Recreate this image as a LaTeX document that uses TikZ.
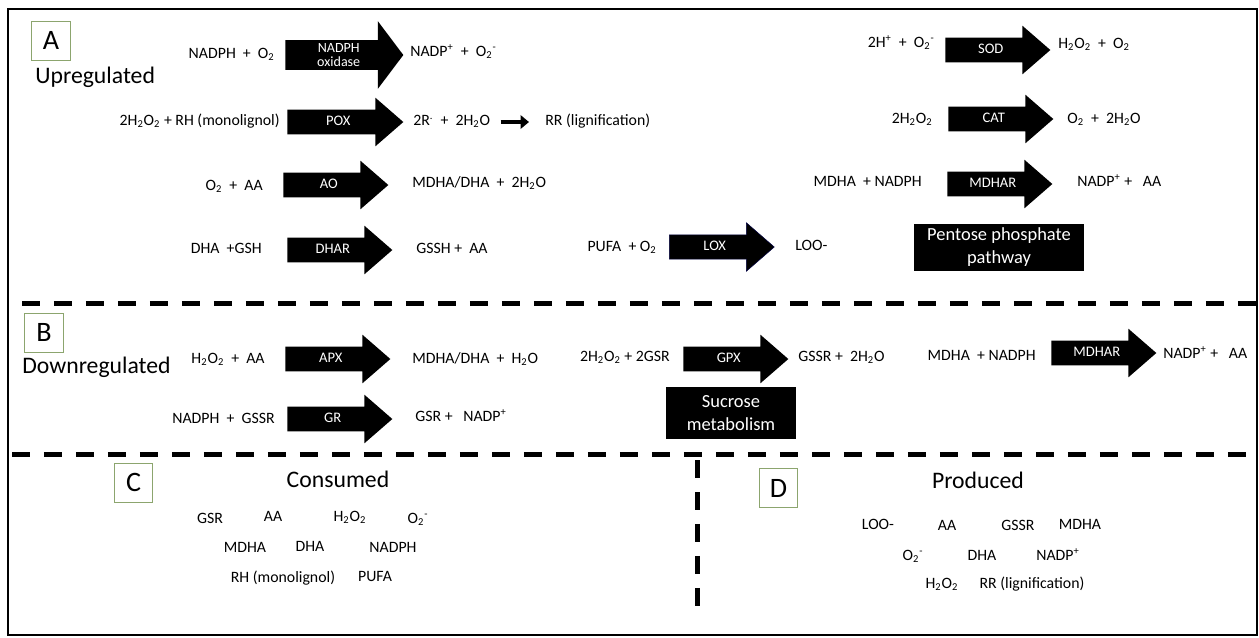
\documentclass[tikz,border=0pt]{standalone}
\usepackage{fontspec}
\setmainfont{Carlito}
\usetikzlibrary{shapes.arrows,arrows.meta,positioning}

\definecolor{panelgreen}{RGB}{140,165,110}
\newcommand{\chsub}[1]{\textsubscript{#1}}
\newcommand{\chsup}[1]{\textsuperscript{#1}}
\newcommand{\pl}{\hspace{0.45em}+\hspace{0.45em}}

\tikzset{
  enzyme/.style={single arrow, fill=black, text=white, font=\fontsize{8.3}{9}\selectfont,
    single arrow head extend=0.24cm, single arrow tip angle=82, inner xsep=2pt, inner ysep=0.1cm,
    text height=5.9pt, text depth=2pt, minimum height=2.1cm},
  oxidase/.style={align=center, text height={}, text depth={}, inner ysep=1.5pt,
    font=\fontsize{8}{8.4}\selectfont,
    single arrow head extend=0.38cm, single arrow tip angle=106, minimum height=2.36cm},
  species/.style={font=\fontsize{9}{11}\selectfont, inner sep=0pt, text height=6.5pt, text depth=2pt},
  heading/.style={font=\fontsize{13.5}{16}\selectfont, inner sep=0pt},
  panel/.style={draw=panelgreen, line width=0.5pt, fill=white, minimum width=0.77cm,
    minimum height=0.78cm, inner sep=0pt, font=\fontsize{16}{18}\selectfont},
  pathway/.style={fill=black, text=white, align=center, inner sep=0pt, font=\fontsize{10.5}{13}\selectfont},
  divider/.style={line width=0.1cm, dash pattern=on 0.36cm off 0.28cm},
  smallarrow/.style={line width=0.09cm, -{Triangle[length=0.17cm,width=0.27cm]},
    shorten <=0.2cm, shorten >=0.32cm}
}

\begin{document}
\begin{tikzpicture}[x=0.02cm,y=-0.02cm]
\useasboundingbox (0,0) rectangle (1259,637);
\draw[line width=0.04cm] (8,9) rectangle (1257,635);

% dividers
\draw[divider] (22,303) -- (1257,303);
\draw[divider] (12,454) -- (1257,454);
\draw[divider] (697,460) -- (697,612);

% A: upregulated
\node[panel] (pa) at (51,40.5) {A};
\node[heading, anchor=base west] (up) at (35,83) {Upregulated};

\node[species, anchor=east] (nadph) at (275,55) {NADPH\pl O\chsub{2}};
\node[enzyme, oxidase, anchor=tail] (nox) at (285,55) {NADPH\\oxidase};
\node[species, anchor=west] (nadp) at (410,53) {NADP\chsup{+}\pl O\chsub{2}\chsup{-}};

\node[species, anchor=east] (hmono) at (280,122) {2H\chsub{2}O\chsub{2} + RH (monolignol)};
\node[enzyme, minimum height=2.32cm, anchor=tail] (pox) at (287,122) {POX};
\node[species, anchor=west] (radical) at (413,122) {2R\chsup{.}\pl 2H\chsub{2}O};
\node[species, anchor=west] (lignin) at (545,122) {RR (lignification)};
\draw[smallarrow] (radical) -- (lignin);

\node[species, anchor=east] (oaa) at (263,187) {O\chsub{2}\pl AA};
\node[enzyme, anchor=tail] (ao) at (283,185) {AO};
\node[species, anchor=west] (mdhadha) at (412,184) {MDHA/DHA\pl 2H\chsub{2}O};

\node[species, anchor=east] (dhagsh) at (262,250) {DHA\ \ +GSH};
\node[enzyme, anchor=tail] (dhar) at (287,250) {DHAR};
\node[species, anchor=west] (gssh) at (416,250) {GSSH +\ \ AA};

\node[species, anchor=east] (pufa) at (657,248) {PUFA\ \ + O\chsub{2}};
\node[enzyme, draw=black!75!blue, line width=0.3pt, anchor=tail] (lox) at (669,247) {LOX};
\node[species, anchor=west] (loo) at (795,247) {LOO-};

\node[species, anchor=east] (hsup) at (935,44) {2H\chsup{+}\pl O\chsub{2}\chsup{-}};
\node[enzyme, anchor=tail] (sod) at (945,50) {SOD};
\node[species, anchor=west] (hpo) at (1058,45) {H\chsub{2}O\chsub{2}\pl O\chsub{2}};

\node[species, anchor=east] (hpcat) at (933,120) {2H\chsub{2}O\chsub{2}};
\node[enzyme, anchor=tail] (cat) at (948,119) {CAT};
\node[species, anchor=west] (owater) at (1067,120) {O\chsub{2}\pl 2H\chsub{2}O};

\node[species, anchor=east] (mdnadph) at (922,183) {MDHA\ \ + NADPH};
\node[enzyme, anchor=tail] (mdhar) at (947,184) {MDHAR};
\node[species, anchor=west] (nadpaa) at (1077,183) {NADP\chsup{+} +\ \ \ AA};

\node[pathway, minimum width=3.4cm, minimum height=0.94cm] (ppp) at (999,247) {Pentose phosphate\\pathway};

% B: downregulated
\node[panel] (pb) at (44,332.5) {B};
\node[heading, anchor=base west] (down) at (22,373) {Downregulated};

\node[species, anchor=east] (hpaa) at (265,360) {H\chsub{2}O\chsub{2}\pl AA};
\node[enzyme, anchor=tail] (apx) at (285,359) {APX};
\node[species, anchor=west] (mdhaw) at (412,360) {MDHA/DHA\pl H\chsub{2}O};

\node[species, anchor=east] (nadgssr) at (275,420) {NADPH\pl GSSR};
\node[enzyme, anchor=tail] (gr) at (287,419) {GR};
\node[species, anchor=west] (gsrnadp) at (415,418) {GSR +\ \ \ NADP\chsup{+}};

\node[species, anchor=east] (hpgsr) at (670,358) {2H\chsub{2}O\chsub{2} + 2GSR};
\node[enzyme, anchor=tail] (gpx) at (683,359) {GPX};
\node[species, anchor=west] (gssrw) at (798,358) {GSSR +\ \ 2H\chsub{2}O};

\node[species, anchor=east] (mdnadph2) at (1036,357) {MDHA\ \ + NADPH};
\node[enzyme, anchor=tail] (mdhar2) at (1051,353) {MDHAR};
\node[species, anchor=west] (nadpaa2) at (1163,355) {NADP\chsup{+} +\ \ \ AA};

\node[pathway, minimum width=2.6cm, minimum height=1.04cm] (suc) at (731,413) {Sucrose\\metabolism};

% C: consumed
\node[panel] (pc) at (133.5,482.5) {C};
\node[heading, anchor=base] (cons) at (338,487) {Consumed};
\node[species] (cgsr) at (210,520) {GSR};
\node[species] (caa) at (273,518) {AA};
\node[species] (chp) at (350,518) {H\chsub{2}O\chsub{2}};
\node[species] (csup) at (418,520) {O\chsub{2}\chsup{-}};
\node[species] (cmdha) at (245,549) {MDHA};
\node[species] (cdha) at (310,548) {DHA};
\node[species] (cnadph) at (393,549) {NADPH};
\node[species] (crh) at (283,579) {RH (monolignol)};
\node[species] (cpufa) at (375,578) {PUFA};

% D: produced
\node[panel] (pd) at (778.5,488) {D};
\node[heading, anchor=base] (prod) at (978,488) {Produced};
\node[species] (dloo) at (878,526) {LOO-};
\node[species] (daa) at (947,527) {AA};
\node[species] (dgssr) at (1018,527) {GSSR};
\node[species] (dmdha) at (1080,526) {MDHA};
\node[species] (dsup) at (913,557) {O\chsub{2}\chsup{-}};
\node[species] (ddha) at (982,557) {DHA};
\node[species] (dnadp) at (1058,557) {NADP\chsup{+}};
\node[species] (dhp) at (942,585) {H\chsub{2}O\chsub{2}};
\node[species] (drr) at (1032,585) {RR (lignification)};

\end{tikzpicture}
\end{document}
